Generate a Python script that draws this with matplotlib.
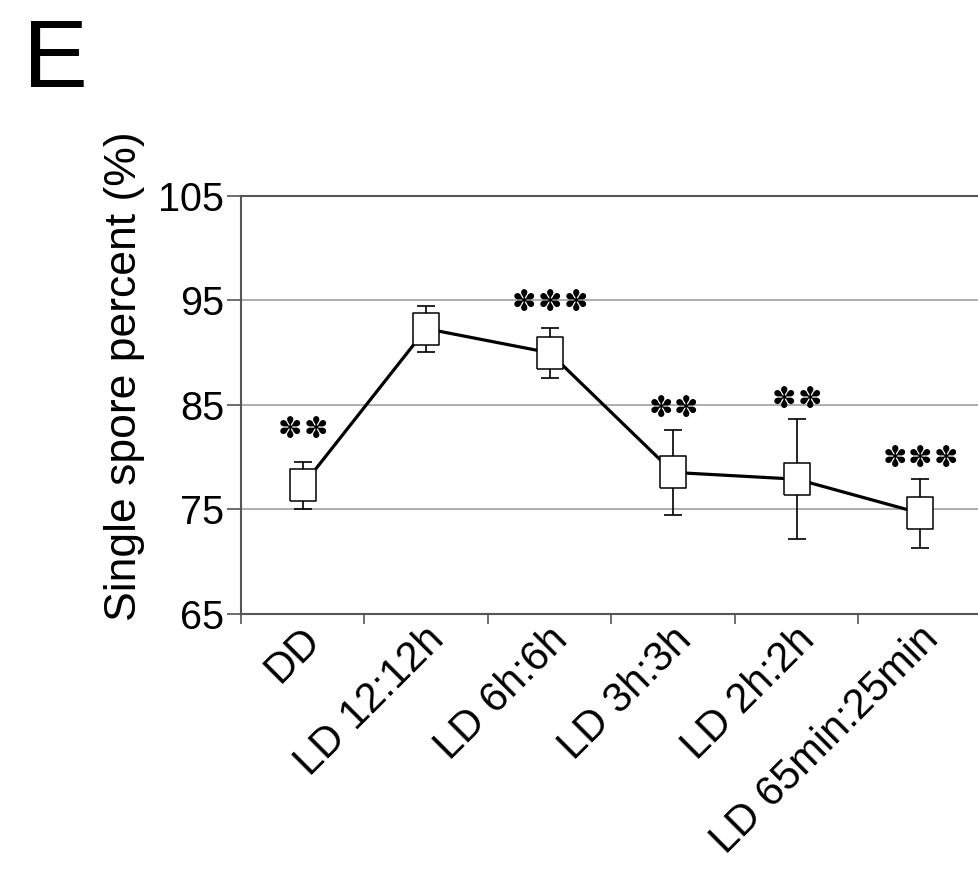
import matplotlib
matplotlib.use("Agg")
import matplotlib.pyplot as plt
import numpy as np
from matplotlib.ticker import FixedLocator
from matplotlib.transforms import ScaledTranslation

plt.rcParams['font.family'] = ['Liberation Sans', 'DejaVu Sans']

categories = ["DD", "LD 12:12h", "LD 6h:6h", "LD 3h:3h", "LD 2h:2h", "LD 65min:25min"]
means = [77.3, 92.3, 90.0, 78.55, 77.9, 74.65]
errors = [2.25, 2.2, 2.4, 4.05, 5.75, 3.3]
stars = [2, 0, 3, 2, 2, 3]
star_y = [82.65, None, 94.8, 84.65, 85.5, 79.8]

yticks = [65, 75, 85, 95, 105]

W, H = 979, 886
fig = plt.figure(figsize=(W / 100, H / 100), dpi=100)
ax = fig.add_axes([241 / W, 1 - 614 / H, 741 / W, 418 / H])

x = np.arange(len(categories))
ax.set_xlim(-0.5, len(categories) - 0.5)
ax.set_ylim(65, 105)

for yv in yticks[1:-1]:
    ax.axhline(yv, color='#a8a8a8', lw=1.3, zorder=0)

ax.errorbar(x, means, yerr=errors, fmt='none', ecolor='black', elinewidth=1.2,
            capsize=6.5, capthick=1.2, zorder=2)
ax.plot(x, means, color='black', lw=2.3, zorder=3)
box = [(-0.774, -1), (0.774, -1), (0.774, 1), (-0.774, 1), (-0.774, -1)]
ax.plot(x, means, linestyle='none', marker=box, markersize=23.5,
        markerfacecolor='white', markeredgecolor='black', markeredgewidth=1.1, zorder=4)

pitch = 18.5  # points between stars
for xi, n, sy in zip(x, stars, star_y):
    for k in range(n):
        ax.annotate("\u273D", xy=(xi, sy), xytext=((k - (n - 1) / 2) * pitch, 0),
                    textcoords='offset points', ha='center', va='center',
                    fontsize=21, family='DejaVu Sans', color='black')

ax.set_yticks(yticks)
ax.set_yticklabels([str(v) for v in yticks], fontsize=28.5)
ax.tick_params(axis='y', length=10, width=1.2, color='#555555', pad=2)

ax.set_xticks(x)
ax.set_xticklabels(categories, fontsize=30, rotation=45, ha='right',
                   va='center', rotation_mode='anchor')
ax.tick_params(axis='x', which='major', length=0, pad=14)
ax.xaxis.set_minor_locator(FixedLocator(np.arange(-0.5, len(categories), 1.0)))
ax.tick_params(axis='x', which='minor', length=7, width=1.2, color='#555555')
shift = ScaledTranslation(0.12, 0.0, fig.dpi_scale_trans)
for lab in ax.get_xticklabels():
    lab.set_transform(lab.get_transform() + shift)

for side in ['left', 'bottom', 'top']:
    ax.spines[side].set_color('#555555')
    ax.spines[side].set_linewidth(1.5)
ax.spines['right'].set_visible(False)

fig.text(125 / W, 1 - 376 / H, "Single spore percent (%)", rotation=90,
         ha='center', va='center', fontsize=32)
fig.text(23 / W, 1 - 17 / H, "E", ha='left', va='top', fontsize=70)

fig.savefig("out.png", dpi=100)
